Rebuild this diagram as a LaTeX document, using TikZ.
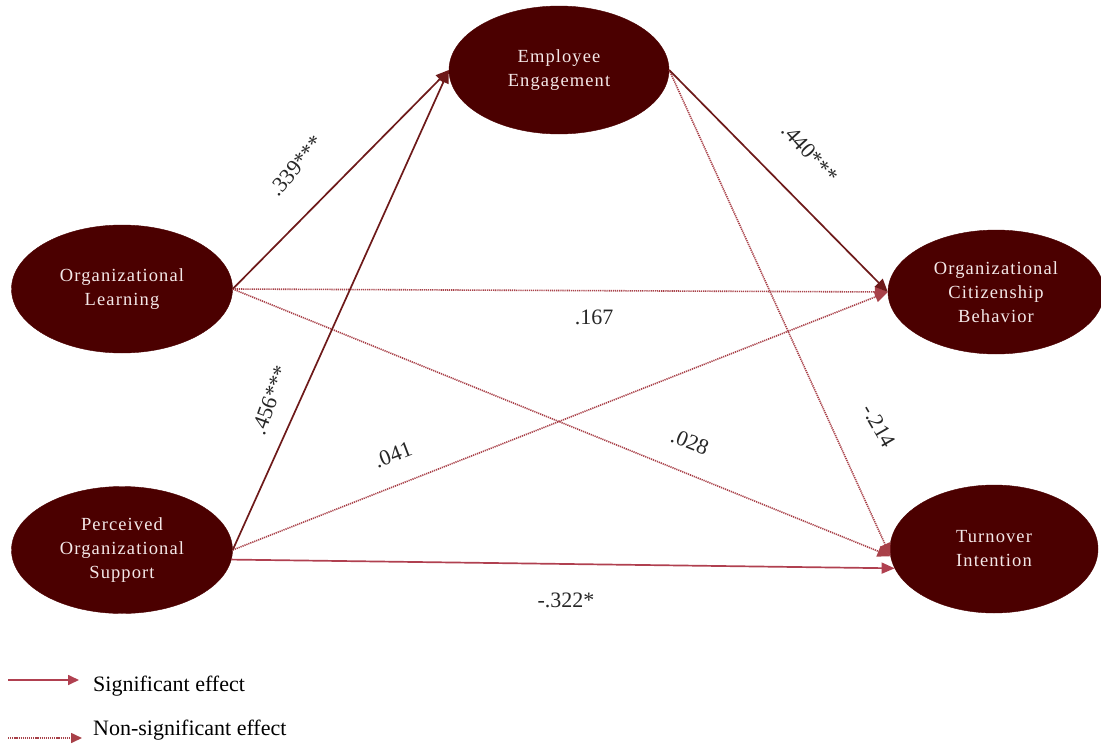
\documentclass[tikz,border=0pt]{standalone}
\usepackage{fontspec}
\setmainfont{Liberation Serif}
\usetikzlibrary{shapes.geometric,arrows.meta}
\definecolor{construct}{HTML}{4B0000}
\definecolor{constructtext}{HTML}{F4E8E8}
\definecolor{sigdark}{HTML}{6E1A1A}
\definecolor{siglight}{HTML}{B04050}
\definecolor{nonsig}{HTML}{A84048}
\tikzset{
  construct/.style={ellipse, fill=construct, draw=construct, inner sep=0pt,
    text=constructtext, align=center,
    font=\fontsize{18.5}{24}\selectfont\addfontfeature{LetterSpace=6}},
  sigpath/.style={draw=sigdark, line width=1.7pt, -{Triangle[length=13pt,width=11pt]}},
  sigpathlight/.style={draw=siglight, line width=1.7pt, -{Triangle[length=13pt,width=11pt]}},
  nonsigpath/.style={draw=nonsig, line width=1.6pt, dash pattern=on 1.2pt off 0.9pt,
    -{Triangle[length=13pt,width=11pt]}},
  coef/.style={font=\fontsize{22}{26}\selectfont, text=black!85, inner sep=1pt},
  legendtext/.style={font=\fontsize{22}{26}\selectfont, anchor=west, inner sep=0pt}
}
\begin{document}
\begin{tikzpicture}[x=1pt,y=-1pt]
\useasboundingbox (0,0) rectangle (1101,744);

% constructs
\node[construct, minimum width=220pt, minimum height=128pt] (ee) at (559,70) {Employee\\Engagement};
\node[construct, minimum width=221pt, minimum height=128pt] (ol) at (122,289) {Organizational\\Learning};
\node[construct, minimum width=221pt, minimum height=127pt] (pos) at (122,550) {Perceived\\Organizational\\Support};
\node[construct, minimum width=216pt, minimum height=124pt] (ocb) at (996,292) {Organizational\\Citizenship\\Behavior};
\node[construct, minimum width=208pt, minimum height=128pt] (ti) at (994,549) {Turnover\\Intention};

% structural paths
\draw[nonsigpath] (ol.east) -- (ocb.west);
\draw[nonsigpath] (ol.east) -- (ti.184);
\draw[nonsigpath] (pos.east) -- (ocb.west);
\draw[nonsigpath] (ee.east) -- (ti.184);
\draw[sigpath] (ol.east) -- (ee.west);
\draw[sigpath] (pos.east) -- (ee.west);
\draw[sigpath] (ee.east) -- (ocb.west);
\draw[sigpathlight] (pos.355) -- (ti.191);

% path coefficients
\node[coef, rotate=50] (c1) at (296,166) {.339***};
\node[coef, rotate=70] (c2) at (270,400) {.456***};
\node[coef, rotate=-48] (c3) at (810,153) {.440***};
\node[coef] (c4) at (594,317) {.167};
\node[coef, rotate=21] (c5) at (393,455) {.041};
\node[coef, rotate=-22] (c6) at (690,442) {.028};
\node[coef, rotate=-60] (c7) at (879,426) {-.214};
\node[coef] (c8) at (566,600) {-.322*};

% legend
\coordinate (l1a) at (8,680);
\coordinate (l1b) at (79,680);
\coordinate (l2a) at (8,738);
\coordinate (l2b) at (82,738);
\draw[siglight, line width=1.7pt, -{Triangle[length=11pt,width=10pt]}] (l1a) -- (l1b);
\draw[nonsig, line width=1.6pt, dash pattern=on 1.2pt off 0.9pt, -{Triangle[length=11pt,width=10pt]}] (l2a) -- (l2b);
\node[legendtext] (lg1) at (93,686) {Significant effect};
\node[legendtext] (lg2) at (93,730) {Non-significant effect};
\end{tikzpicture}
\end{document}
